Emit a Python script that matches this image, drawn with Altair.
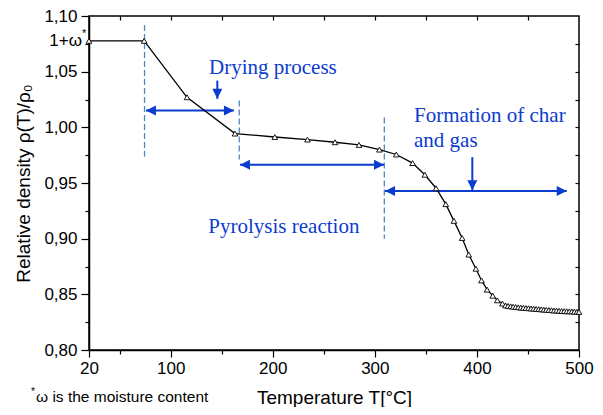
import altair as alt
import pandas as pd

# ---- curve data ----
temp = [20, 74, 116, 163, 202, 234, 261, 284.5, 304.5, 321, 337, 349, 360, 369.5,
        377.5, 385.5, 392, 399, 404.5, 410, 415.5, 420, 425,
        428, 430.5, 433, 435.5, 438, 440.5, 443, 445.5, 448, 450.5,
        453, 455.5, 458, 460.5, 463, 465.5, 468, 470.5, 473, 475.5,
        478, 480.5, 483, 485.5, 488, 490.5, 493, 495.5, 498, 500]
rho = [1.0777, 1.0777, 1.027, 0.9944, 0.9913, 0.989, 0.9866, 0.9842, 0.980, 0.9756,
       0.9679, 0.9574, 0.9453, 0.931, 0.916, 0.9006, 0.8857, 0.873, 0.8625, 0.8542,
       0.8488, 0.8446, 0.8417,
       0.8400, 0.8396, 0.8392, 0.8389, 0.8386, 0.8383, 0.8381, 0.8379, 0.8377, 0.8375,
       0.8373, 0.8371, 0.8369, 0.8367, 0.8365, 0.8363, 0.8361, 0.8359, 0.8357, 0.8355,
       0.8354, 0.8352, 0.8350, 0.8349, 0.8348, 0.8347, 0.8346, 0.8345, 0.8343, 0.8342]

# ---- axis ticks ----
x_major = [20, 100, 200, 300, 400, 500]
x_minor = [50, 150, 250, 350, 450]
y_major = [0.80, 0.85, 0.90, 0.95, 1.00, 1.05, 1.10]
y_minor = [0.825, 0.875, 0.925, 0.975, 1.025, 1.075]
top_ticks = [50, 100, 150, 200, 250, 300, 350, 400, 450]
right_ticks = [0.825, 0.85, 0.875, 0.90, 0.925, 0.95, 0.975, 1.00, 1.025, 1.05, 1.075]

# ---- annotations ----
dash_x = [74.4, 167.2, 309.3]
dash_y1 = [1.092, 1.0241, 1.0089]
dash_y2 = [0.9735, 0.9712, 0.900]

harrow_x1 = [75.8, 167.9, 310.0]
harrow_x2 = [162.0, 309.0, 488.0]
harrow_y = [1.0152, 0.9663, 0.9429]

varrow_x = [145.7, 395.5]
varrow_y1 = [1.042, 0.9732]
varrow_y2 = [1.0256, 0.9435]

label_text = ["Drying process", "Pyrolysis reaction", "Formation of char", "and gas"]
label_x = [137.6, 136.9, 338.4, 338.4]
label_y = [1.048, 0.9047, 1.0047, 0.9824]

omega_label = "1+ω"
omega_value = 1.0777
footnote = "ω is the moisture content"

BLUE = "#0b3bcf"
DASH = "#4f86c6"
RIGHT_HEAD = "M0,0L-2,-1L-2,1Z"
LEFT_HEAD = "M0,0L2,-1L2,1Z"
DOWN_HEAD = "M0,0L-1,-2L1,-2Z"

curve = pd.DataFrame({"T": temp, "rho": rho})
dashes = pd.DataFrame({"x": dash_x, "y1": dash_y1, "y2": dash_y2})
harrows = pd.DataFrame({"x1": harrow_x1, "x2": harrow_x2, "y": harrow_y})
varrows = pd.DataFrame({"x": varrow_x, "y1": varrow_y1, "y2": varrow_y2})
heads = pd.DataFrame(
    {"x": harrow_x1 + harrow_x2 + varrow_x,
     "y": harrow_y + harrow_y + varrow_y2,
     "shape": [LEFT_HEAD] * 3 + [RIGHT_HEAD] * 3 + [DOWN_HEAD] * 2})
labels = pd.DataFrame({"x": label_x, "y": label_y, "text": label_text})
omega = pd.DataFrame({"x": [20], "y": [omega_value], "text": [omega_label]})

xs = alt.Scale(domain=[20, 500], nice=False, zero=False)
ys = alt.Scale(domain=[0.80, 1.10], nice=False, zero=False)

x_axis = alt.Axis(
    values=x_major + x_minor,
    labelExpr="(datum.value == 20 || datum.value % 100 == 0) ? datum.label : ''",
    tickSize={"condition": {"test": "datum.value == 20 || datum.value % 100 == 0", "value": 7}, "value": 4},
    labelFlush=False, labelOverlap=False, labelPadding=3, titlePadding=12,
    title="Temperature T[°C]")
y_axis = alt.Axis(
    values=y_major + y_minor,
    labelExpr="abs(datum.value*20 - round(datum.value*20)) < 0.01 ? replace(format(datum.value, '.2f'), '.', ',') : ''",
    tickSize={"condition": {"test": "abs(datum.value*20 - round(datum.value*20)) < 0.01", "value": 8}, "value": 4},
    labelFlush=False, labelOverlap=False, labelPadding=4, titlePadding=10,
    title="Relative density ρ(T)/ρ₀")

line = alt.Chart(curve).mark_line(color="black", strokeWidth=1.3).encode(
    x=alt.X("T:Q", scale=xs, axis=x_axis),
    y=alt.Y("rho:Q", scale=ys, axis=y_axis))

points = alt.Chart(curve).mark_point(
    shape="triangle-up", filled=True, fill="white", stroke="black",
    strokeWidth=0.9, size=32, opacity=1).encode(
    x=alt.X("T:Q", scale=xs, axis=alt.Axis(
        orient="top", values=top_ticks, labels=False, domain=False, title=None,
        tickSize=4, offset=-4, grid=False)),
    y=alt.Y("rho:Q", scale=ys, axis=alt.Axis(
        orient="right", values=right_ticks, labels=False, domain=False, title=None,
        tickSize=4, offset=-4, grid=False)))

dash_rules = alt.Chart(dashes).mark_rule(
    color=DASH, strokeWidth=1.3, strokeDash=[6, 3]).encode(
    x=alt.X("x:Q", scale=xs, axis=None),
    y=alt.Y("y1:Q", scale=ys, axis=None), y2="y2:Q")

h_rules = alt.Chart(harrows).mark_rule(color=BLUE, strokeWidth=2).encode(
    x=alt.X("x1:Q", scale=xs, axis=None), x2="x2:Q",
    y=alt.Y("y:Q", scale=ys, axis=None))

v_rules = alt.Chart(varrows).mark_rule(color=BLUE, strokeWidth=2).encode(
    x=alt.X("x:Q", scale=xs, axis=None),
    y=alt.Y("y1:Q", scale=ys, axis=None), y2="y2:Q")

head_marks = alt.Chart(heads).mark_point(
    filled=True, color=BLUE, size=100, opacity=1, strokeWidth=0).encode(
    x=alt.X("x:Q", scale=xs, axis=None),
    y=alt.Y("y:Q", scale=ys, axis=None),
    shape=alt.Shape("shape:N", scale=None))

label_marks = alt.Chart(labels).mark_text(
    align="left", baseline="alphabetic", font="Liberation Serif",
    fontSize=21, color=BLUE).encode(
    x=alt.X("x:Q", scale=xs, axis=None),
    y=alt.Y("y:Q", scale=ys, axis=None), text="text:N")

omega_mark = alt.Chart(omega).mark_text(
    align="right", baseline="middle", font="Liberation Sans", fontSize=17,
    color="black", dx=-7).encode(
    x=alt.X("x:Q", scale=xs, axis=None),
    y=alt.Y("y:Q", scale=ys, axis=None), text="text:N")
omega_star = alt.Chart(omega).mark_text(
    align="left", baseline="middle", font="Liberation Sans", fontSize=11,
    color="black", dx=-7, dy=-7, text="*").encode(
    x=alt.X("x:Q", scale=xs, axis=None),
    y=alt.Y("y:Q", scale=ys, axis=None))

foot = alt.Chart(omega).mark_text(
    align="left", baseline="middle", font="Liberation Sans", fontSize=15.5,
    color="black", text=footnote).encode(x=alt.value(-53), y=alt.value(381))
foot_star = alt.Chart(omega).mark_text(
    align="left", baseline="middle", font="Liberation Sans", fontSize=10,
    color="black", text="*").encode(x=alt.value(-58), y=alt.value(376))

chart = alt.layer(
    dash_rules, h_rules, v_rules, head_marks, line, points,
    label_marks, omega_mark, omega_star, foot, foot_star
).resolve_axis(x="independent", y="independent").properties(
    width=490, height=334,
    autosize=alt.AutoSizeParams(type="none"),
    padding={"left": 81, "top": 8, "right": 16, "bottom": 57}
).configure_view(stroke="black", strokeWidth=1.5).configure_axis(
    grid=False, domainColor="black", domainWidth=1.5, tickColor="black",
    tickWidth=1.2, labelColor="black", titleColor="black",
    labelFont="Liberation Sans", titleFont="Liberation Sans",
    labelFontSize=17, titleFontSize=19, titleFontWeight="normal")

chart.save("out.html", embed_options={"renderer": "svg", "actions": False})
